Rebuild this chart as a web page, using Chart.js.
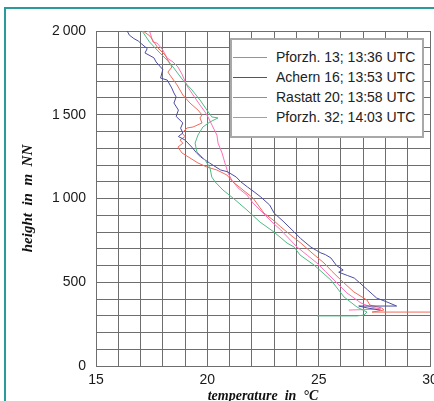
<!DOCTYPE html>
<html><head><meta charset="utf-8">
<script src="https://cdn.jsdelivr.net/npm/chart.js"></script>
<style>
html,body{margin:0;padding:0;background:#fff;overflow:hidden;width:434px;height:401px;}
#frame{position:absolute;left:4px;top:7px;width:520px;height:520px;border-left:2px solid #2a9b98;border-top:2px solid #2a9b98;}
#wrap{position:absolute;left:0;top:0;width:470px;height:420px;}
#legend{position:absolute;left:230px;top:38px;width:190px;height:96px;background:#fff;border:2px solid #a8a8a8;font-family:"Liberation Sans",Arial,sans-serif;font-size:14px;color:#222;}
.row{position:absolute;left:0;height:20px;line-height:20px;white-space:nowrap;}
.sw{position:absolute;left:1px;top:10px;width:34px;height:1px;}
.lbl{position:absolute;left:44px;top:0;}
</style></head>
<body>
<div id="frame"></div>
<div id="wrap"><canvas id="c" width="470" height="420"></canvas></div>
<div id="legend"></div>
<script>
// ---- data ----
const seriesNames = ["Pforzh. 13; 13:36 UTC", "Achern 16; 13:53 UTC", "Rastatt 20; 13:58 UTC", "Pforzh. 32; 14:03 UTC"];
const seriesColors = ["#4fbb84", "#4c4ca2", "#f06a5a", "#ff6fb8"];

const pforzh13T = [17.07,17.4,17.87,18.2,18.46,18.9,19.31,19.67,19.98,20.2,20.48,20.12,19.8,19.58,19.45,19.53,19.9,20.12,20.2,20.35,20.7,21.15,21.78,22.36,22.99,23.58,23.9,24.16,24.79,25.55,26.14,26.72,27.17,27.03,26.72,24.92];
const pforzh13H = [2000,1935,1869,1825,1785,1707,1648,1588,1528,1487,1481,1457,1427,1379,1331,1278,1230,1182,1128,1099,1051,1003,931,860,800,734,710,663,603,513,412,352,322,304,299,299];

const achern16T = [16.4,16.5,16.7,16.9,17.0,17.3,17.2,17.6,17.7,18.0,17.9,18.2,18.4,18.5,18.6,18.5,18.7,18.6,18.9,18.8,18.9,18.7,19.0,19.3,19.5,19.7,20.1,20.3,20.6,20.9,21.3,21.5,21.8,22.1,22.4,22.8,23.0,23.4,23.9,24.2,24.65,24.9,25.1,25.3,25.55,25.8,26.1,25.9,26.3,26.6,26.9,27.2,27.4,27.6,28.07,28.5,26.8,27.2,27.75];
const achern16H = [2000,1975,1955,1940,1928,1895,1869,1840,1815,1770,1719,1707,1660,1630,1606,1570,1528,1490,1451,1420,1391,1370,1349,1307,1275,1248,1212,1195,1170,1160,1128,1100,1069,1040,1009,961,913,865,800,760,710,690,675,665,645,600,573,560,540,525,490,454,430,406,382,358,358,346,334];

const rastatt20T = [17.11,17.42,17.78,18.1,18.41,18.23,18.32,18.64,18.9,19.22,19.58,19.76,19.67,19.76,19.36,19.09,18.86,19.0,18.77,18.9,18.68,18.86,19.22,19.58,19.98,20.43,20.88,21.15,21.6,22.05,22.54,22.95,23.3,23.85,24.2,24.7,25.24,25.6,26.0,26.58,27.17,27.3,27.84,27.93,27.4,30.0];
const rastatt20H = [2000,1970,1899,1857,1785,1755,1737,1678,1618,1570,1528,1499,1481,1451,1427,1421,1391,1370,1349,1330,1307,1272,1242,1212,1188,1170,1140,1099,1051,1003,913,872,830,770,734,675,615,565,513,442,394,364,346,334,322,322];

const pforzh32T = [17.29,17.42,17.56,17.74,18.0,18.19,18.46,18.68,18.86,19.09,19.36,19.67,19.9,20.03,20.25,20.43,20.48,20.66,20.79,20.93,21.1,21.38,21.78,22.05,22.5,22.95,23.3,23.6,24.03,24.5,24.92,25.3,25.69,26.27,26.9,27.35,27.8,26.36];
const pforzh32H = [2000,1994,1934,1928,1887,1839,1815,1785,1743,1672,1618,1558,1516,1487,1427,1379,1331,1272,1212,1152,1110,1063,1021,973,913,854,812,770,710,660,615,565,513,436,376,352,340,334];

const xTickValues = [15, 20, 25, 30];
const xTickLabels = ["15", "20", "25", "30"];
const yTickValues = [0, 500, 1000, 1500, 2000];
const yTickLabels = ["0", "500", "1\u2009000", "1\u2009500", "2\u2009000"];

const xTitle = "temperature  in  \u00b0C";
const yTitle = "height  in  m  NN";

// ---- build ----
const seriesT = [pforzh13T, achern16T, rastatt20T, pforzh32T];
const seriesH = [pforzh13H, achern16H, rastatt20H, pforzh32H];
const datasets = seriesNames.map((name, i) => ({
  label: name,
  data: seriesT[i].map((t, j) => ({x: t, y: seriesH[i][j]})),
  borderColor: seriesColors[i],
  backgroundColor: seriesColors[i],
  borderWidth: 1,
  pointRadius: 0,
  showLine: true,
  tension: 0
}));

const gridCol = "#6e6e6e";
const tickFont = {family: "'Liberation Sans', Arial, sans-serif", size: 14};
const xTitleFont = {family: "'Liberation Serif', 'DejaVu Serif', serif", size: 14, weight: "bold", style: "italic"};
const yTitleFont = {family: "'Liberation Serif', 'DejaVu Serif', serif", size: 15, weight: "bold", style: "italic"};

new Chart(document.getElementById("c"), {
  type: "scatter",
  data: {datasets},
  options: {
    responsive: false,
    animation: false,
    layout: {padding: {left: 0, top: 31, right: 40, bottom: 0}},
    plugins: {legend: {display: false}, tooltip: {enabled: false}},
    scales: {
      x: {
        type: "linear", min: 15, max: 30,
        ticks: {stepSize: 1, color: "#1a1a1a", font: tickFont, padding: 6, maxRotation: 0, autoSkip: false,
          callback: v => { const k = xTickValues.indexOf(v); return k >= 0 ? xTickLabels[k] : ""; }},
        grid: {color: gridCol, drawTicks: false, lineWidth: 1},
        border: {color: gridCol},
        title: {display: true, text: xTitle, color: "#111", font: xTitleFont, padding: {top: 0, bottom: 15}},
        afterFit: s => { s.height = 54; }
      },
      y: {
        type: "linear", min: 0, max: 2000,
        ticks: {stepSize: 100, color: "#1a1a1a", font: tickFont, padding: 10, autoSkip: false,
          callback: v => { const k = yTickValues.indexOf(v); return k >= 0 ? yTickLabels[k] : ""; }},
        grid: {color: gridCol, drawTicks: false, lineWidth: 1},
        border: {color: gridCol},
        title: {display: true, text: yTitle, color: "#111", font: yTitleFont, padding: {top: 19, bottom: 0}},
        afterFit: s => { s.width = 96; }
      }
    }
  }
});

// legend (HTML)
const lg = document.getElementById("legend");
seriesNames.forEach((n, i) => {
  const r = document.createElement("div");
  r.className = "row";
  r.style.top = (7 + i * 20) + "px";
  const sw = document.createElement("div");
  sw.className = "sw";
  sw.style.background = seriesColors[i];
  const lb = document.createElement("span");
  lb.className = "lbl";
  lb.textContent = n;
  r.appendChild(sw); r.appendChild(lb);
  lg.appendChild(r);
});
</script>
</body></html>
